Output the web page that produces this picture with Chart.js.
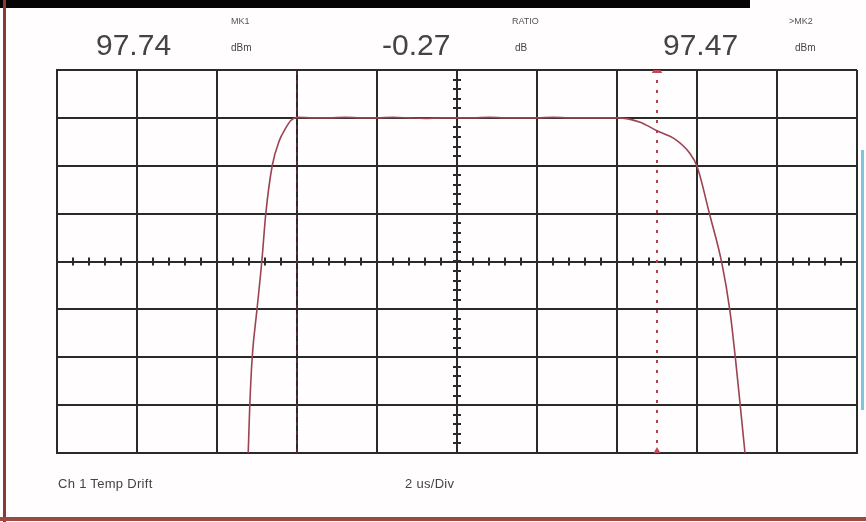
<!DOCTYPE html>
<html>
<head>
<meta charset="utf-8">
<script src="https://cdn.jsdelivr.net/npm/chart.js@4"></script>
<style>
  html, body { margin: 0; padding: 0; background: #fff; }
  #wrap { position: relative; width: 866px; height: 522px; overflow: hidden; background: #fffdfd;
          font-family: "Liberation Sans", Arial, sans-serif; color: #3a3a3a; }
  #c { position: absolute; left: 0; top: 0; }
  .topbar { position: absolute; left: 0; top: 0; width: 750px; height: 8px; background: #050505; }
  .lborder { position: absolute; left: 3px; top: 0; width: 3px; height: 522px; background: #8c3a30; }
  .bborder { position: absolute; left: 0; top: 517px; width: 866px; height: 4px; background: #9a4a40; }
  .rstrip { position: absolute; left: 861px; top: 150px; width: 3px; height: 260px; background: #7fc4dc; }
  .t { position: absolute; white-space: nowrap; line-height: 1; }
  .big { font-size: 30px; color: #444; }
  .sm { font-size: 9px; color: #555; }
  .unit { font-size: 10px; color: #444; }
  .foot { font-size: 13px; color: #444; letter-spacing: 0.3px; }
</style>
</head>
<body>
<div id="wrap">
  <canvas id="c" width="866" height="522"></canvas>
  <div class="topbar"></div>
  <div class="lborder"></div>
  <div class="bborder"></div>
  <div class="rstrip"></div>
  <div class="t big" style="left:96px;top:30px" id="mk1Val"></div>
  <div class="t sm" style="left:231px;top:17px">MK1</div>
  <div class="t unit" style="left:231px;top:43px">dBm</div>
  <div class="t big" style="left:382px;top:30px" id="ratioVal"></div>
  <div class="t sm" style="left:512px;top:17px">RATIO</div>
  <div class="t unit" style="left:515px;top:43px">dB</div>
  <div class="t big" style="left:663px;top:30px" id="mk2Val"></div>
  <div class="t sm" style="left:789px;top:17px">&gt;MK2</div>
  <div class="t unit" style="left:795px;top:43px">dBm</div>
  <div class="t foot" style="left:58px;top:477px">Ch 1 Temp Drift</div>
  <div class="t foot" style="left:405px;top:477px">2 us/Div</div>
</div>
<script>
// Time axis (µs) and level axis (dBm) of the trace
const timeUs = [
  -5.22, -5.18, -5.12, -5.00, -4.88, -4.78, -4.62, -4.44, -4.30, -4.16, -4.00,
  -3.60, -3.20, -2.80, -2.40, -2.00, -1.60, -1.20, -0.80, -0.40, 0.00,
  0.40, 0.80, 1.20, 1.60, 2.00, 2.40, 2.80, 3.20, 3.60, 4.00,
  4.58, 5.00, 5.44, 5.82, 6.00, 6.32, 6.62, 6.82, 6.96, 7.08, 7.20
];
const levelDbm = [
  90.74, 91.74, 92.74, 93.74, 94.74, 95.74, 96.74, 97.27, 97.50, 97.68, 97.75,
  97.74, 97.74, 97.75, 97.74, 97.74, 97.75, 97.74, 97.73, 97.74, 97.74,
  97.74, 97.75, 97.74, 97.74, 97.74, 97.75, 97.74, 97.74, 97.74, 97.74,
  97.65, 97.47, 97.30, 97.00, 96.73, 95.71, 94.71, 93.73, 92.72, 91.74, 90.74
];

// Marker readouts
const markerNames = ["MK1", "MK2"];
const markerTimesUs = [-4.0, 5.0];
const markerLevelsDbm = [97.74, 97.47];
const ratioDb = -0.27;

// Screen graticule: 10 horizontal divisions of 2 µs, 8 vertical divisions of 1 dB
const xGridUs = [-10, -8, -6, -4, -2, 0, 2, 4, 6, 8, 10];
const yGridDbm = [90.74, 91.74, 92.74, 93.74, 94.74, 95.74, 96.74, 97.74, 98.74];

document.getElementById("mk1Val").textContent = markerLevelsDbm[0].toFixed(2);
document.getElementById("mk2Val").textContent = markerLevelsDbm[1].toFixed(2);
document.getElementById("ratioVal").textContent = ratioDb.toFixed(2);

const xMin = xGridUs[0], xMax = xGridUs[xGridUs.length - 1];
const yMin = yGridDbm[0], yMax = yGridDbm[yGridDbm.length - 1];
const xCenter = 0, yCenter = yGridDbm[4];

const trace = timeUs.map((t, i) => ({ x: t, y: levelDbm[i] }));

// Minor tick marks along the centre cross of the graticule
const centreTicks = {
  id: "centreTicks",
  beforeDatasetsDraw(chart) {
    const { ctx, scales: { x, y } } = chart;
    const cx = x.getPixelForValue(xCenter);
    const cy = y.getPixelForValue(yCenter);
    ctx.save();
    ctx.strokeStyle = "#2a2a2a";
    ctx.lineWidth = 2;
    ctx.beginPath();
    const xStep = (xGridUs[1] - xGridUs[0]) / 5;
    for (let v = xMin; v <= xMax + 1e-9; v += xStep) {
      const px = Math.round(x.getPixelForValue(v));
      ctx.moveTo(px, cy - 4);
      ctx.lineTo(px, cy + 4);
    }
    const yStep = (yGridDbm[1] - yGridDbm[0]) / 5;
    for (let v = yMin; v <= yMax + 1e-9; v += yStep) {
      const py = Math.round(y.getPixelForValue(v));
      ctx.moveTo(cx - 4, py);
      ctx.lineTo(cx + 4, py);
    }
    ctx.stroke();
    ctx.restore();
  }
};

const markerLines = markerTimesUs.map((t, i) => ({
  label: markerNames[i],
  data: [{ x: t, y: yMin }, { x: t, y: yMax }],
  showLine: true,
  borderColor: i === 0 ? "rgba(110,40,50,0.8)" : "#b3404f",
  borderWidth: 2,
  borderDash: i === 0 ? [4, 5] : [3, 7],
  pointRadius: i === 0 ? 0 : 4,
  pointStyle: "triangle",
  pointBackgroundColor: "#c0485a",
  pointBorderColor: "#c0485a",
  order: 2
}));

new Chart(document.getElementById("c"), {
  type: "scatter",
  data: {
    datasets: [
      {
        label: "Ch 1",
        data: trace,
        showLine: true,
        borderColor: "#9a4452",
        borderWidth: 1.6,
        pointRadius: 0,
        cubicInterpolationMode: "monotone",
        order: 1
      },
      ...markerLines
    ]
  },
  options: {
    responsive: false,
    animation: false,
    devicePixelRatio: 1,
    layout: { padding: { left: 57, top: 70, right: 9, bottom: 69 } },
    plugins: { legend: { display: false }, tooltip: { enabled: false } },
    scales: {
      x: {
        type: "linear",
        min: xMin,
        max: xMax,
        afterBuildTicks: (s) => { s.ticks = xGridUs.map(v => ({ value: v })); },
        ticks: { display: false },
        grid: { color: "#2a2a2a", lineWidth: 2, drawTicks: false },
        border: { display: true, color: "#2a2a2a", width: 2 }
      },
      y: {
        type: "linear",
        min: yMin,
        max: yMax,
        afterBuildTicks: (s) => { s.ticks = yGridDbm.map(v => ({ value: v })); },
        ticks: { display: false },
        grid: { color: "#2a2a2a", lineWidth: 2, drawTicks: false },
        border: { display: true, color: "#2a2a2a", width: 2 }
      }
    }
  },
  plugins: [centreTicks]
});
</script>
</body>
</html>
